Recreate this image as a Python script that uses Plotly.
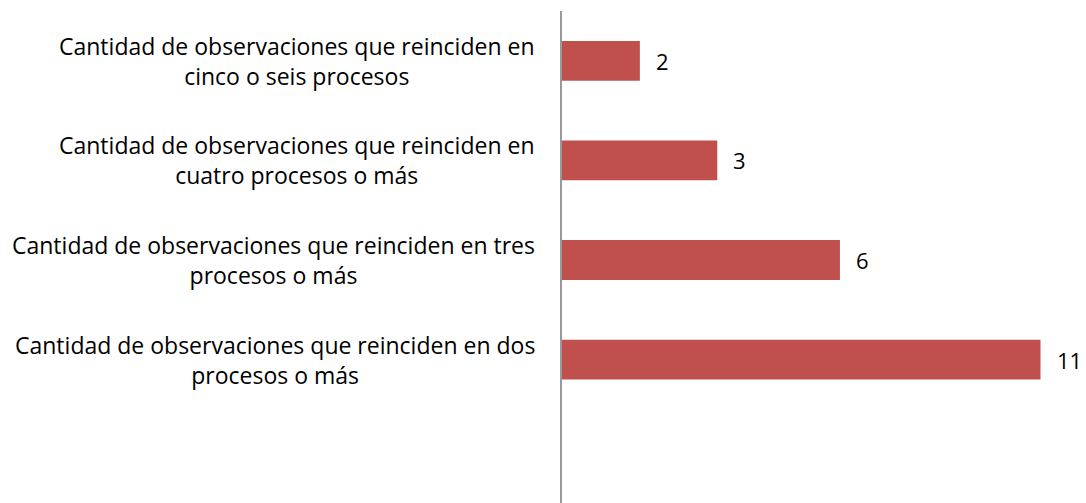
import plotly.graph_objects as go

# Categories from bottom to top
categories = [
    "Cantidad de observaciones que reinciden en dos<br>procesos o más",
    "Cantidad de observaciones que reinciden en tres<br>procesos o más",
    "Cantidad de observaciones que reinciden en<br>cuatro procesos o más",
    "Cantidad de observaciones que reinciden en<br>cinco o seis procesos",
]
# bar lengths as drawn in the picture (axis 0..12)
bar_values = [11.0, 6.39, 3.57, 1.79]
# data labels as printed on the chart
data_labels = ["11", "6", "3", "2"]

BAR_COLOR = "#C0504D"
FONT = "Open Sans"

fig = go.Figure()
fig.add_trace(go.Bar(
    x=bar_values,
    y=categories,
    orientation="h",
    marker=dict(color=BAR_COLOR, line=dict(width=0)),
    width=0.4,
    hoverinfo="skip",
))

annotations = []
for cat, val, lab in zip(categories, bar_values, data_labels):
    annotations.append(dict(
        x=val, y=cat, xref="x", yref="y",
        text=lab, showarrow=False, xanchor="left", yanchor="middle",
        xshift=14, font=dict(family=FONT, size=22, color="#000000"),
    ))
    annotations.append(dict(
        x=0, y=cat, xref="paper", yref="y",
        text=cat, showarrow=False, xanchor="right", yanchor="middle",
        align="center", xshift=-25,
        font=dict(family=FONT, size=23, color="#000000"),
    ))

fig.update_layout(
    width=1078, height=495,
    margin=dict(l=554, r=2, t=3, b=0),
    paper_bgcolor="white", plot_bgcolor="white",
    showlegend=False,
    annotations=annotations,
    xaxis=dict(range=[0, 12], showgrid=False, zeroline=False,
               showticklabels=False, showline=False, ticks=""),
    yaxis=dict(type="category", categoryorder="array", categoryarray=categories,
               range=[-1.44, 3.5], showgrid=False, zeroline=False,
               showticklabels=False, showline=True, linecolor="#999999",
               linewidth=1.5, ticks=""),
)

fig.write_html("out.html")
